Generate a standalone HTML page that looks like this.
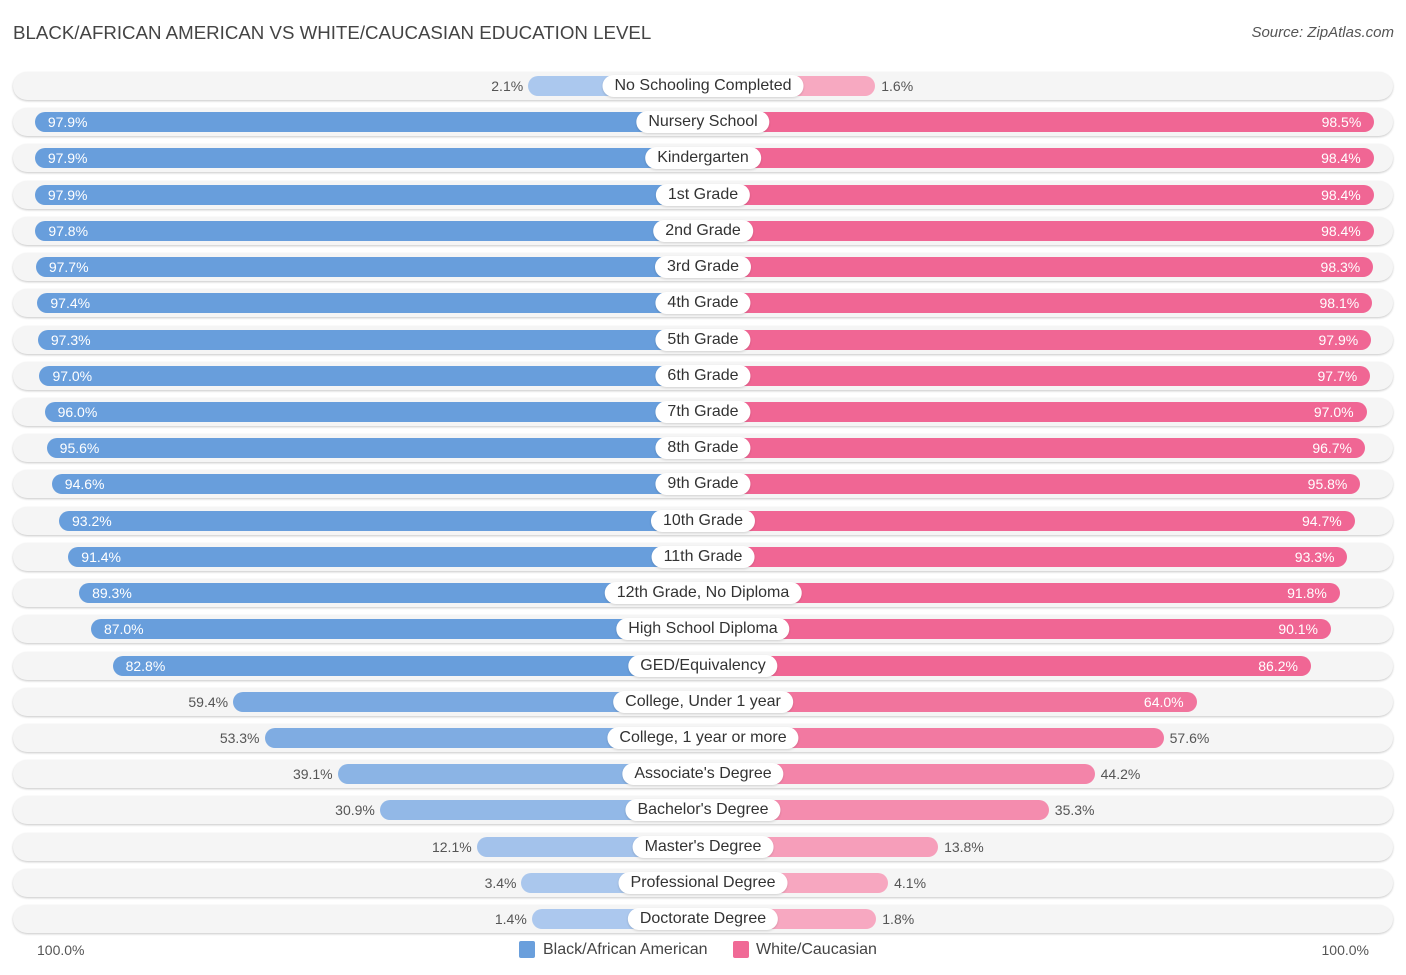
<!DOCTYPE html>
<html><head><meta charset="utf-8"><style>
body{margin:0;background:#fff;font-family:"Liberation Sans",sans-serif;}
#c{position:relative;width:1406px;height:975px;overflow:hidden}
.t{position:absolute;white-space:nowrap}
</style></head><body>
<div id="c">
<div class="t" style="left:13px;top:22px;font-size:18.7px;color:#444">BLACK/AFRICAN AMERICAN VS WHITE/CAUCASIAN EDUCATION LEVEL</div>
<div class="t" style="right:12px;top:24px;font-size:15px;color:#555;font-style:italic">Source: ZipAtlas.com</div>
<div class="t" style="left:37px;top:942px;font-size:14px;color:#555">100.0%</div>
<div class="t" style="right:37px;top:942px;font-size:14px;color:#555">100.0%</div>
<div style="position:absolute;left:519px;top:941px;width:16px;height:17px;background:#6a9fdc;border-radius:2px"></div>
<div class="t" style="left:543px;top:941px;font-size:16px;color:#444">Black/African American</div>
<div style="position:absolute;left:733px;top:941px;width:16px;height:17px;background:#f06a96;border-radius:2px"></div>
<div class="t" style="left:756px;top:941px;font-size:16px;color:#444">White/Caucasian</div>
</div>
<script>
const categories=["No Schooling Completed","Nursery School","Kindergarten","1st Grade","2nd Grade","3rd Grade","4th Grade","5th Grade","6th Grade","7th Grade","8th Grade","9th Grade","10th Grade","11th Grade","12th Grade, No Diploma","High School Diploma","GED/Equivalency","College, Under 1 year","College, 1 year or more","Associate's Degree","Bachelor's Degree","Master's Degree","Professional Degree","Doctorate Degree"];
const blackVals=[2.1,97.9,97.9,97.9,97.8,97.7,97.4,97.3,97.0,96.0,95.6,94.6,93.2,91.4,89.3,87.0,82.8,59.4,53.3,39.1,30.9,12.1,3.4,1.4];
const whiteVals=[1.6,98.5,98.4,98.4,98.4,98.3,98.1,97.9,97.7,97.0,96.7,95.8,94.7,93.3,91.8,90.1,86.2,64.0,57.6,44.2,35.3,13.8,4.1,1.8];
const c=document.getElementById('c');
const CX=703,OFF=164,K=5.15,Y0=86,DY=36.22;
function len(v){return OFF+K*v;}
function mix(a,b,t){return 'rgb('+a.map((x,i)=>Math.round(x+(b[i]-x)*t)).join(',')+')';}
const bl=[173,201,238],bd=[104,158,220],pl=[247,170,194],pd=[240,102,148];
categories.forEach((cat,i)=>{
  const y=Y0+i*DY;
  const row=document.createElement('div');
  
  
  row.style.cssText=`position:absolute;left:13px;width:1380px;top:${y-14}px;height:28px;border-radius:14px;background:#f5f5f5;box-shadow:0 1px 2px rgba(0,0,0,.22)`;
  c.appendChild(row);
  const bv=blackVals[i],wv=whiteVals[i];
  const bw=len(bv),ww=len(wv);
  const b=document.createElement('div');
  
  
  b.style.cssText=`position:absolute;left:${CX-bw}px;width:${bw}px;top:${y-10}px;height:20px;border-radius:10px 0 0 10px;background:${mix(bl,bd,Math.min(1,bv/80))}`;
  c.appendChild(b);
  const w=document.createElement('div');
  
  
  w.style.cssText=`position:absolute;left:${CX}px;width:${ww}px;top:${y-10}px;height:20px;border-radius:0 10px 10px 0;background:${mix(pl,pd,Math.min(1,wv/80))}`;
  c.appendChild(w);
  const lb=document.createElement('div');
  
  
  lb.textContent=cat;
  lb.style.cssText=`position:absolute;left:${CX}px;top:${y-11}px;transform:translateX(-50%);height:22px;line-height:22px;padding:0 12px;border-radius:11px;background:#fff;font-size:16px;color:#333;white-space:nowrap;box-shadow:0 1px 2px rgba(0,0,0,.15)`;
  c.appendChild(lb);
  const bt=document.createElement('div');
  
  
  bt.textContent=bv.toFixed(1)+'%';
  const inB=bv>60;
  bt.style.cssText=`position:absolute;top:${y-9}px;font-size:14px;line-height:18px;white-space:nowrap;`+(inB?`left:${CX-bw+13}px;color:#fff`:`right:${1406-(CX-bw)+5}px;color:#555`);
  c.appendChild(bt);
  const wt=document.createElement('div');
  
  
  wt.textContent=wv.toFixed(1)+'%';
  const inW=wv>60;
  wt.style.cssText=`position:absolute;top:${y-9}px;font-size:14px;line-height:18px;white-space:nowrap;`+(inW?`right:${1406-(CX+ww)+13}px;color:#fff`:`left:${CX+ww+6}px;color:#555`);
  c.appendChild(wt);
});
</script>
</body></html>
